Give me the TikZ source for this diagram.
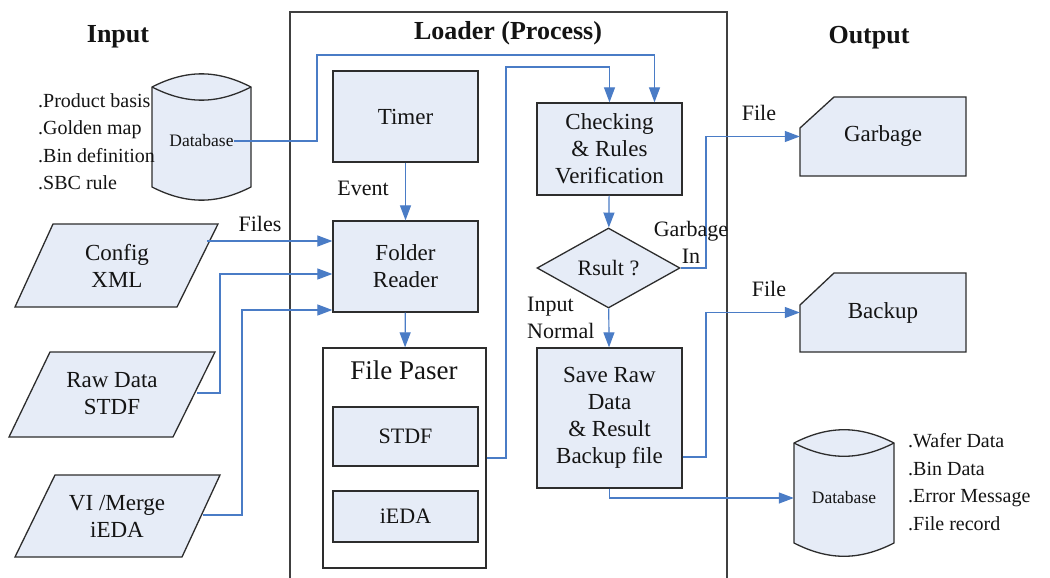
\documentclass[tikz,border=0pt]{standalone}
\usepackage{fontspec}
\setmainfont{Liberation Serif}
\usetikzlibrary{arrows.meta,shapes.geometric,calc}
\definecolor{lblue}{RGB}{74,124,198}
\definecolor{bfill}{RGB}{230,236,247}
\definecolor{edgec}{RGB}{45,45,45}
\begin{document}
\begin{tikzpicture}[x=1pt,y=-1pt,
  every node/.style={font=\fontsize{23}{27}\selectfont, text=black!92, inner sep=0pt},
  pbox/.style={draw=edgec, line width=1.3pt, fill=bfill, align=center},
  shp/.style={draw=edgec, line width=1.3pt, fill=bfill},
  ln/.style={draw=edgec, line width=1.3pt},
  conn/.style={draw=lblue, line width=1.2pt, -{Triangle[length=15pt,width=11pt]}},
  lbl/.style={font=\fontsize{22}{27}\selectfont, align=center},
  hdr/.style={font=\bfseries\fontsize{26}{30}\selectfont},
  lst/.style={font=\fontsize{20}{27.5}\selectfont, align=left},
  smalltxt/.style={font=\fontsize{17.5}{20}\selectfont}]
\useasboundingbox[fill=white] (0,0) rectangle (1050,578);

% headers
\node[hdr] (hin) at (118,37) {Input};
\node[hdr] (hload) at (508,33) {Loader (Process)};
\node[hdr] (hout) at (869,38) {Output};

% loader frame
\draw[draw=black!75, line width=1.6pt] (290,578) -- (290,12) -- (727,12) -- (727,578);

% input database cylinder
\path[shp] (152,87) to[bend left=27] (251,87) -- (251,187) to[bend left=27] (152,187) -- cycle;
\draw[ln] (152,87) to[bend right=27] (251,87);
\node[smalltxt] (db1) at (201.5,141) {Database};
\node[lst, anchor=west] (inlist) at (38,141.5) {.Product basis\\.Golden map\\.Bin definition\\.SBC rule};

% input parallelograms
\path[shp] (53,224) -- (218,224) -- (177,307) -- (15,307) -- cycle;
\node[align=center] (cfg) at (117,266) {Config\\XML};
\path[shp] (50,352) -- (215,352) -- (173,437) -- (9,437) -- cycle;
\node[align=center] (raw) at (112,394) {Raw Data\\STDF};
\path[shp] (55,475) -- (220,475) -- (182,557) -- (15,557) -- cycle;
\node[align=center] (vi) at (117,516) {VI /Merge\\iEDA};
\coordinate (cfgout) at (207,241);
\coordinate (rawout) at (197,393);
\coordinate (viout) at (203,515);
\coordinate (rawturn) at (220,274);
\coordinate (viturn) at (242,310);

% loader nodes
\node[pbox, minimum width=145pt, minimum height=91pt] (timer) at (405.5,116.5) {Timer};
\node[pbox, minimum width=145pt, minimum height=91pt] (folder) at (405.5,266.5) {Folder\\Reader};
\node[draw=edgec, line width=1.3pt, fill=white, minimum width=163pt, minimum height=220pt] (fp) at (404.5,458) {};
\node[font=\fontsize{27}{30}\selectfont] (fptitle) at (404,370) {File Paser};
\node[pbox, minimum width=145pt, minimum height=59pt, font=\fontsize{22}{26}\selectfont] (stdf) at (405.5,436.5) {STDF};
\node[pbox, minimum width=145pt, minimum height=51pt, font=\fontsize{22}{26}\selectfont] (ieda) at (405.5,516.5) {iEDA};
\node[pbox, minimum width=145pt, minimum height=92pt] (chk) at (609.5,149) {Checking\\\& Rules\\Verification};
\node[diamond, draw=edgec, line width=1.3pt, fill=bfill, minimum width=143pt, minimum height=80pt, font=\fontsize{22}{26}\selectfont] (dia) at (608.5,268) {Rsult ?};
\node[pbox, minimum width=145pt, minimum height=140pt] (save) at (609.5,418) {Save Raw\\Data\\\& Result\\Backup file};

% output shapes
\path[shp] (800,128) -- (834,97) -- (966,97) -- (966,176) -- (800,176) -- cycle;
\node[minimum width=166pt, minimum height=79pt] (garb) at (883,136.5) {Garbage};
\path[shp] (800,305) -- (834,273) -- (966,273) -- (966,352) -- (800,352) -- cycle;
\node[minimum width=166pt, minimum height=79pt] (bak) at (883,312.5) {Backup};
\path[shp] (794,443) to[bend left=27] (894,443) -- (894,543) to[bend left=27] (794,543) -- cycle;
\draw[ln] (794,443) to[bend right=27] (894,443);
\node[smalltxt, minimum width=100pt] (db2) at (844,498) {Database};
\node[lst, anchor=west] (outlist) at (908,482) {.Wafer Data\\.Bin Data\\.Error Message\\.File record};

\coordinate (gturn) at (706,136.5);
\coordinate (bturn) at (706,312.5);

% connectors
\draw[conn] (db1.east) -| (317,55) -| ([xshift=45pt]chk.north);
\draw[conn] (fp.east) -| (506,67) -| (chk.north);
\draw[conn] (timer) -- (folder);
\draw[conn] (folder) -- (fp);
\draw[conn] (cfgout) -- (cfgout -| folder.west);
\draw[conn] (rawout) -| (rawturn) -- (rawturn -| folder.west);
\draw[conn] (viout) -| (viturn) -- (viturn -| folder.west);
\draw[conn] (chk) -- (dia);
\draw[conn] (dia) -- (save);
\draw[conn] (dia.east) -| (gturn) -- (garb.west);
\draw[conn] ([yshift=-39pt]save.east) -| (bturn) -- (bak.west);
\draw[conn] (save.south) |- (db2.west);

% labels
\node[lbl] (lev) at (363,188) {Event};
\node[lbl] (lfiles) at (260,224) {Files};
\node[lbl] (lfile1) at (759,113) {File};
\node[lbl] (lfile2) at (769,289) {File};
\node[lbl] (lgarb) at (691,242) {Garbage\\In};
\node[lbl, align=left, anchor=west] (lin) at (527,318) {Input\\Normal};
\end{tikzpicture}
\end{document}
